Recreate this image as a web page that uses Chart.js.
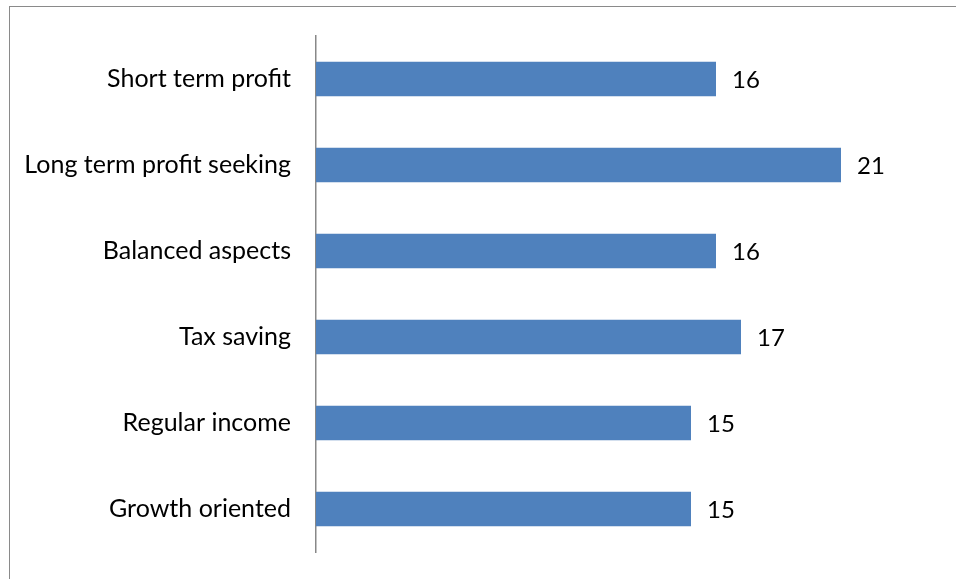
<!DOCTYPE html>
<html>
<head>
<meta charset="utf-8">
<script src="https://cdn.jsdelivr.net/npm/chart.js@4.4.1/dist/chart.umd.min.js"></script>
<style>
  html, body { margin: 0; padding: 0; background: #fff; }
  #wrap { width: 956px; height: 579px; position: relative; }
</style>
</head>
<body>
<div id="wrap"><canvas id="mycanvas" width="956" height="579"></canvas></div>
<script>
var categories = ['Short term profit', 'Long term profit seeking', 'Balanced aspects', 'Tax saving', 'Regular income', 'Growth oriented'];
var values = [16, 21, 16, 17, 15, 15];
var axisMax = 25;

var fontFamily = 'Lato, "Open Sans", sans-serif';

// frame around the chart, left and top edges visible
var framePlugin = {
  id: 'frame',
  beforeDraw: function(chart) {
    var ctx = chart.ctx;
    ctx.save();
    ctx.strokeStyle = '#8a8a8a';
    ctx.lineWidth = 1;
    ctx.strokeRect(9.5, 6.5, 1000, 700);
    ctx.restore();
  }
};

// value next to the end of each bar
var valueLabels = {
  id: 'valueLabels',
  afterDatasetsDraw: function(chart) {
    var ctx = chart.ctx;
    var meta = chart.getDatasetMeta(0);
    ctx.save();
    ctx.fillStyle = '#000';
    ctx.font = '24px ' + fontFamily;
    ctx.textAlign = 'left';
    ctx.textBaseline = 'middle';
    meta.data.forEach(function(bar, i) {
      ctx.fillText(String(values[i]), bar.x + 16, bar.y + 1);
    });
    ctx.restore();
  }
};

var chartdata = {
  labels: categories,
  datasets: [
    {
      data: values,
      backgroundColor: '#4f81bd',
      borderWidth: 0,
      categoryPercentage: 1,
      barPercentage: 0.4
    }
  ]
};

var ctx = document.getElementById('mycanvas');

var barGraph = new Chart(ctx, {
  type: 'bar',
  data: chartdata,
  plugins: [framePlugin, valueLabels],
  options: {
    indexAxis: 'y',
    responsive: false,
    animation: false,
    layout: { padding: { left: 0, right: 15, top: 36, bottom: 27 } },
    plugins: {
      legend: { display: false },
      tooltip: { enabled: false }
    },
    scales: {
      x: {
        display: false,
        min: 0,
        max: axisMax
      },
      y: {
        grid: { display: false, drawTicks: false },
        border: { display: true, color: '#888888', width: 1.5 },
        ticks: {
          color: '#000',
          padding: 25,
          font: { family: fontFamily, size: 25 }
        },
        afterFit: function(scale) {
          scale.width = 316;
          // labels sit mid-category, no extra room needed above/below
          scale.paddingTop = 0;
          scale.paddingBottom = 0;
        }
      }
    }
  }
});
</script>
</body>
</html>
